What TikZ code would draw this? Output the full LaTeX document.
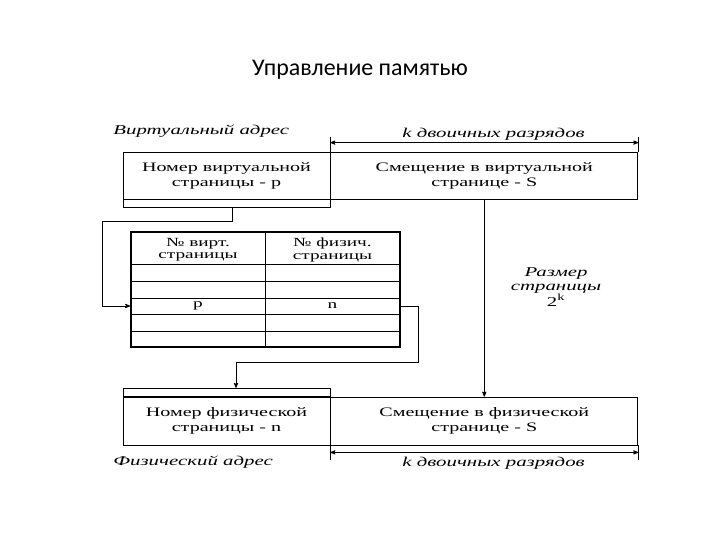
\documentclass[tikz,border=0pt]{standalone}
\usepackage{fontspec}
\setmainfont{Liberation Serif}
\newfontfamily\boxfont{Liberation Serif}[FakeStretch=1.55]
\newfontfamily\titlefont{Carlito}
\usetikzlibrary{arrows,positioning}

\begin{document}
\begin{tikzpicture}[x=1bp,y=-1bp,>=stealth',line width=0.8bp]
\tikzstyle{field} = [rectangle,draw=black,inner sep=0pt,align=center,font=\boxfont\fontsize{13}{15}\selectfont]
\tikzstyle{strip} = [rectangle,draw=black,inner sep=0pt,minimum width=207bp,minimum height=8bp]
\tikzstyle{caption} = [inner sep=0pt,align=center,font=\boxfont\itshape\fontsize{13.5}{14}\selectfont]
\tikzstyle{cell} = [inner sep=0pt,align=center,font=\boxfont\fontsize{12.5}{12.5}\selectfont]
    \useasboundingbox (0,0) rectangle (720,540);
    \node[font=\titlefont\fontsize{24}{28}\selectfont] (title) at (360,70) {Управление памятью};

    % virtual address
    \node[field,minimum width=207bp,minimum height=47bp] (vpage) at (226.5,175.5) {Номер виртуальной\\страницы - р};
    \node[field,minimum width=307bp,minimum height=47bp] (voff) [right=0pt of vpage] {Смещение в виртуальной\\странице - S};
    \node[strip] (vstrip) [below=0pt of vpage] {};
    \node[caption,anchor=west] (vaddr) at (113,131) {Виртуальный адрес};

    % page table
    \node[rectangle,draw=black,line width=1.8bp,inner sep=0pt,minimum width=269bp,minimum height=115bp] (tbl) at (265.5,289.5) {};
    \draw (tbl.north) -- (tbl.south);
    \foreach \y in {264,281,298,314,331}
        \draw (tbl.west |- 0,\y) -- (tbl.east |- 0,\y);
    \node[cell] (hvirt) at (198,250) {№ вирт.\\страницы};
    \node[cell] (hphys) at (332.5,250) {№ физич.\\страницы};
    \node[cell] (rowp) at (198,306) {р};
    \node[cell] (rown) at (332.5,306) {n};

    % physical address
    \node[field,minimum width=207bp,minimum height=48bp] (ppage) at (226.5,421) {Номер физической\\страницы - n};
    \node[field,minimum width=307bp,minimum height=48bp] (poff) [right=0pt of ppage] {Смещение в физической\\странице - S};
    \node[strip] (pstrip) [above=0pt of ppage] {};
    \node[caption,anchor=west] (paddr) at (113,462) {Физический адрес};

    \node[caption] (psize) at (556,287) {Размер\\страницы\\{\upshape 2\textsuperscript{k}}};

    % k bits
    \draw (voff.north west) -- ++(0,-15) coordinate (dtl);
    \draw (voff.north east) -- ++(0,-15) coordinate (dtr);
    \draw[<->] ([yshift=-6bp]dtl) -- node[caption,above=2bp,pos=0.53] (ktop) {k двоичных разрядов} ([yshift=-6bp]dtr);
    \draw (poff.south west) -- ++(0,15) coordinate (dbl);
    \draw (poff.south east) -- ++(0,15) coordinate (dbr);
    \draw[<->] ([yshift=8bp]dbl) -- node[caption,below=4bp,pos=0.53] (kbot) {k двоичных разрядов} ([yshift=8bp]dbr);

    \coordinate (lbend) at (102,221);
    \coordinate (rbend) at (418,362);
    \draw[->] ([xshift=5.5bp]vstrip.south) |- (lbend) |- (tbl.west |- rowp);
    \draw[->] (tbl.east |- rown) -| (rbend) -| ([xshift=9.5bp]pstrip.north);
    \draw[->] (voff.south) -- (poff.north);
\end{tikzpicture}
\end{document}
